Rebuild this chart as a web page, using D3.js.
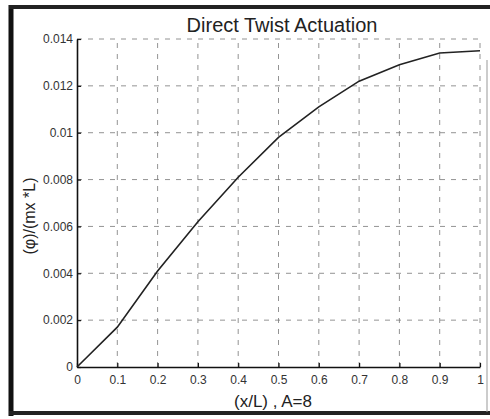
<!DOCTYPE html>
<html>
<head>
<meta charset="utf-8">
<script src="https://cdn.jsdelivr.net/npm/d3@7"></script>
<style>
  body { margin: 0; background: #fff; }
  svg text { font-family: "Liberation Sans", Arial, sans-serif; }
</style>
</head>
<body>
<div id="container"></div>
<script>
/* DATA */
const xVals = [0, 0.1, 0.2, 0.3, 0.4, 0.5, 0.6, 0.7, 0.8, 0.9, 1];
const phiVals = [0, 0.0017, 0.0041, 0.0062, 0.0081, 0.0098, 0.0111, 0.0122, 0.0129, 0.0134, 0.0135];
const xTicks = [0, 0.1, 0.2, 0.3, 0.4, 0.5, 0.6, 0.7, 0.8, 0.9, 1];
const yTicks = [0, 0.002, 0.004, 0.006, 0.008, 0.01, 0.012, 0.014];

/* CONSTANTS */
const width = 490, height = 419,
  margin = { top: 39, bottom: 52, left: 77, right: 10 };

const svg = d3.select("#container")
  .append("svg")
  .attr("width", width)
  .attr("height", height);

// scanned frame
svg.append("line").attr("x1", 11).attr("x2", 11).attr("y1", 5).attr("y2", 416)
  .attr("stroke", "#111").attr("stroke-width", 5);
svg.append("line").attr("x1", 9).attr("x2", 490).attr("y1", 7).attr("y2", 7)
  .attr("stroke", "#222").attr("stroke-width", 4);
svg.append("line").attr("x1", 9).attr("x2", 490).attr("y1", 413).attr("y2", 413)
  .attr("stroke", "#222").attr("stroke-width", 4);
svg.append("line").attr("x1", 487).attr("x2", 487).attr("y1", 60).attr("y2", 412)
  .attr("stroke", "#999").attr("stroke-width", 1);

// SCALES
const x = d3.scaleLinear().domain([0, 1]).range([margin.left, 480]);
const y = d3.scaleLinear().domain([0, 0.014]).range([367, margin.top]);

// grid
svg.append("g")
  .selectAll("line")
  .data(xTicks.slice(1))
  .join("line")
  .attr("x1", d => x(d)).attr("x2", d => x(d))
  .attr("y1", y(0)).attr("y2", y(0.014))
  .attr("stroke", "#777").attr("stroke-width", 0.8)
  .attr("stroke-dasharray", "5,6");

svg.append("g")
  .selectAll("line")
  .data(yTicks.slice(1))
  .join("line")
  .attr("x1", x(0)).attr("x2", x(1))
  .attr("y1", d => y(d)).attr("y2", d => y(d))
  .attr("stroke", "#777").attr("stroke-width", 0.8)
  .attr("stroke-dasharray", "5,6");

// AXES
const xAxis = svg.append("g")
  .attr("transform", `translate(0, ${y(0)})`)
  .call(d3.axisBottom(x).tickValues(xTicks).tickSizeInner(-4).tickSizeOuter(0)
    .tickPadding(8).tickFormat(d3.format("")));

const yAxis = svg.append("g")
  .attr("transform", `translate(${x(0)}, 0)`)
  .call(d3.axisLeft(y).tickValues(yTicks).tickSizeInner(-4).tickSizeOuter(0)
    .tickPadding(4).tickFormat(d3.format("")));

[xAxis, yAxis].forEach(g => {
  g.select(".domain").attr("stroke", "#111").attr("stroke-width", 1.6);
  g.selectAll(".tick line").attr("stroke", "#111").attr("stroke-width", 1.2);
  g.selectAll(".tick text").attr("fill", "#333").style("font-size", "12px");
});

// curve
const line = d3.line()
  .x((d, i) => x(xVals[i]))
  .y(d => y(d));

svg.append("path")
  .datum(phiVals)
  .attr("d", line)
  .attr("fill", "none")
  .attr("stroke", "#222")
  .attr("stroke-width", 1.6);

// TEXT
svg.append("text")
  .attr("x", 282).attr("y", 32)
  .attr("text-anchor", "middle")
  .attr("fill", "#222")
  .style("font-size", "20px")
  .text("Direct Twist Actuation");

svg.append("text")
  .attr("x", 273).attr("y", 407)
  .attr("text-anchor", "middle")
  .attr("fill", "#222")
  .style("font-size", "17px")
  .text("(x/L) , A=8");

svg.append("text")
  .attr("transform", "translate(35, 216) rotate(-90)")
  .attr("text-anchor", "middle")
  .attr("fill", "#222")
  .style("font-size", "16px")
  .text("(\u03C6)/(mx *L)");
</script>
</body>
</html>
